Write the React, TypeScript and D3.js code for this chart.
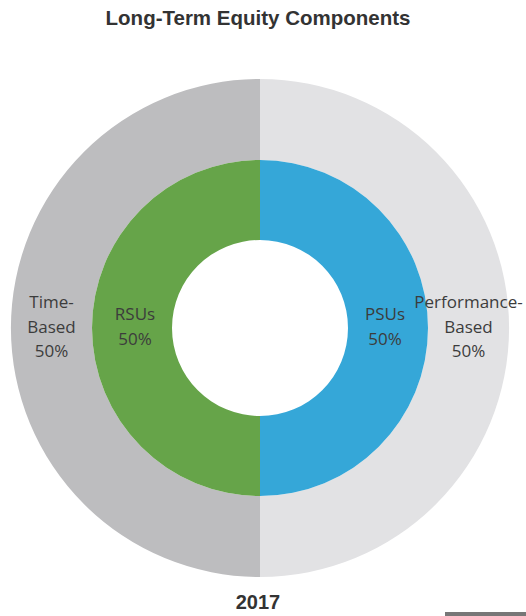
import React from 'react';
import * as d3 from 'd3';

const width = 526;
const height = 616;
const cx = 260;
const cy = 328;

const title = 'Long-Term Equity Components';
const yearLabel = '2017';

// outer ring: vesting basis
const outerNames = ['Performance-Based', 'Time-Based'];
const outerValues = [50, 50];
const outerLines = [['Performance-', 'Based', '50%'], ['Time-', 'Based', '50%']];
const outerColors = ['#e2e2e4', '#bdbdbf'];

// inner ring: award type
const innerNames = ['PSUs', 'RSUs'];
const innerValues = [50, 50];
const innerLines = [['PSUs', '50%'], ['RSUs', '50%']];
const innerColors = ['#35a7d8', '#66a449'];

const radius = { outer: 249, mid: 168, hole: 88 };

const pie = d3.pie<number>().sort(null).value(d => d);

const App = () => {
  const outerArc = d3.arc<d3.PieArcDatum<number>>().innerRadius(radius.mid).outerRadius(radius.outer);
  const innerArc = d3.arc<d3.PieArcDatum<number>>().innerRadius(radius.hole).outerRadius(radius.mid);
  const outerLabelArc = d3.arc<d3.PieArcDatum<number>>().innerRadius(radius.mid + 5).outerRadius(radius.outer - 5);
  const innerLabelArc = d3.arc<d3.PieArcDatum<number>>().innerRadius(125).outerRadius(125);

  const outer = pie(outerValues);
  const inner = pie(innerValues);
  const lineH = 24.5;
  const labelFont = '"Open Sans", sans-serif';

  const label = (lines: string[], x: number, y: number, key: string) => (
    <text key={key} x={x} y={y} textAnchor="middle" fontFamily={labelFont} fontSize={17} fill="#3c3c3c">
      {lines.map((l, i) => (
        <tspan key={i} x={x} dy={i === 0 ? -((lines.length - 1) * lineH) / 2 + 4.5 : lineH}>{l}</tspan>
      ))}
    </text>
  );

  return (
    <svg width={width} height={height} style={{ position: 'absolute', left: 0, top: 0 }}>
      <rect width={width} height={height} fill="#fff" />
      <text x={258} y={25} textAnchor="middle" fontFamily="'Liberation Sans', Arial, sans-serif" fontWeight="bold" fontSize={20.5} fill="#333">{title}</text>
      <g transform={`translate(${cx},${cy})`}>
        {outer.map((d, i) => (
          <path key={outerNames[i]} d={outerArc(d) || ''} fill={outerColors[i]} />
        ))}
        {inner.map((d, i) => (
          <path key={innerNames[i]} d={innerArc(d) || ''} fill={innerColors[i]} />
        ))}
        {outer.map((d, i) => {
          const [x, y] = outerLabelArc.centroid(d);
          return label(outerLines[i], x, y, 'ol' + i);
        })}
        {inner.map((d, i) => {
          const [x, y] = innerLabelArc.centroid(d);
          return label(innerLines[i], x, y, 'il' + i);
        })}
      </g>
      <text x={258} y={609} textAnchor="middle" fontFamily="'Liberation Sans', Arial, sans-serif" fontWeight="bold" fontSize={20} fill="#333">{yearLabel}</text>
      <rect x={445} y={612} width={81} height={4} fill="#777" />
    </svg>
  );
};

export default App;
